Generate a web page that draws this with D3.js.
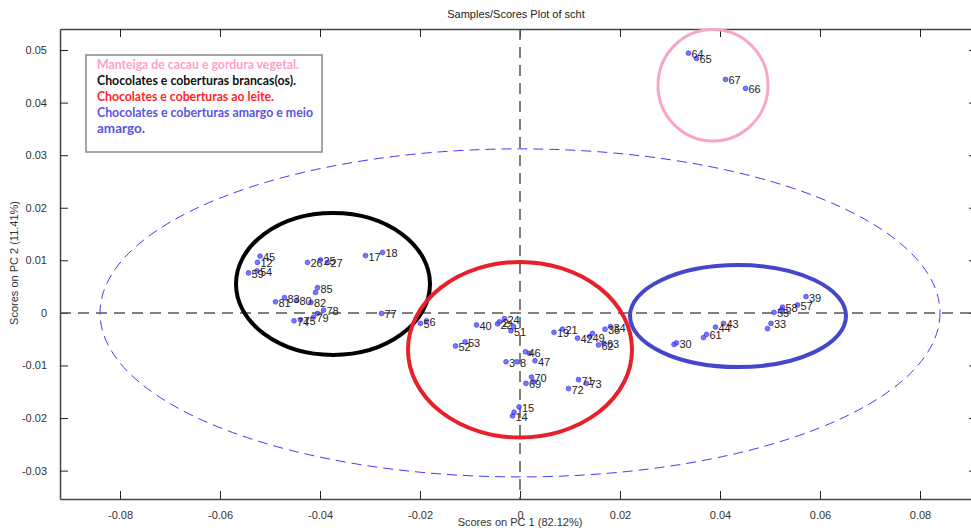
<!DOCTYPE html>
<html><head><meta charset="utf-8">
<script src="https://cdn.jsdelivr.net/npm/d3@7/dist/d3.min.js"></script>
<style>
html,body{margin:0;padding:0;background:#fff;}
svg{display:block;font-family:"Liberation Sans",Arial,sans-serif;}
</style></head>
<body><svg id="chart" width="971" height="531"></svg>
<script>
// ---- data ----  (replicate measurements without their own visible label use "")
const sampleLabels = ["45","12","59","54","26","25","27","17","18","85","","82","83","81","80","78","","79","75","74","77","6","5",
  "40","24","22","2","51","","52","53","46","","47","3","8","69","70","","15","14","","19","21","42","49","","35","34","62","63","71","72","73",
  "39","57","58","","55","33","","43","44","61","","30","",
  "64","65","67","66"];
const pc1Scores = [-0.0520,-0.0525,-0.0543,-0.0526,-0.0425,-0.0399,-0.0385,-0.0309,-0.0275,-0.0405,-0.0409,-0.0418,-0.0471,-0.0489,-0.0447,-0.0393,-0.0405,-0.0413,-0.0439,-0.0452,-0.0277,-0.0187,-0.0199,
  -0.0087,-0.0031,-0.0045,-0.0041,-0.0018,-0.0013,-0.0129,-0.0110,0.0011,0.0019,0.0030,-0.0028,-0.0006,0.0012,0.0023,0.0027,-0.0002,-0.0015,-0.0012,0.0068,0.0085,0.0115,0.0139,0.0145,0.0170,0.0181,0.0157,0.0168,0.0117,0.0097,0.0133,
  0.0572,0.0555,0.0525,0.0523,0.0508,0.0502,0.0495,0.0407,0.0391,0.0373,0.0367,0.0313,0.0308,
  0.0337,0.0353,0.0411,0.0451];
const pc2Scores = [0.0108,0.0096,0.0076,0.0080,0.0096,0.0101,0.0096,0.0109,0.0115,0.0048,0.0039,0.0020,0.0029,0.0021,0.0024,0.0005,-0.0001,-0.0008,-0.0013,-0.0015,-0.0001,-0.0015,-0.0020,
  -0.0023,-0.0011,-0.0021,-0.0017,-0.0034,-0.0026,-0.0063,-0.0055,-0.0074,-0.0077,-0.0091,-0.0093,-0.0093,-0.0134,-0.0122,-0.0131,-0.0179,-0.0196,-0.0189,-0.0037,-0.0031,-0.0048,-0.0045,-0.0039,-0.0031,-0.0026,-0.0061,-0.0058,-0.0127,-0.0144,-0.0134,
  0.0031,0.0015,0.0011,0.0006,0.0001,-0.0020,-0.0030,-0.0020,-0.0027,-0.0041,-0.0047,-0.0057,-0.0060,
  0.0494,0.0484,0.0444,0.0427];
const xTicks = [-0.08,-0.06,-0.04,-0.02,0,0.02,0.04,0.06,0.08];
const yTicks = [-0.03,-0.02,-0.01,0,0.01,0.02,0.03,0.04,0.05];
// 95% confidence ellipse (center x, center y, radius x, radius y)
const confEllipse = [0, 0, 0.0840, 0.0312];
// hand-drawn group ellipses: [cx, cy, rx, ry]
const groupNames = ["Manteiga de cacau e gordura vegetal.","Chocolates e coberturas brancas(os).","Chocolates e coberturas ao leite.","Chocolates e coberturas amargo e meio","amargo."];
const groupCx = [0.0386,-0.0374,0.0000,0.0436];
const groupCy = [0.0433,0.0055,-0.0070,-0.0006];
const groupRx = [0.0110,0.0194,0.0224,0.0216];
const groupRy = [0.0106,0.0135,0.0167,0.0097];
const groupColors = ["#f7a6c6","#000000","#e8202a","#4646cc"];
const legendColors = ["#ff9fc6","#111111","#ff1f2a","#5a55e0","#5a55e0"];

const svg = d3.select("#chart");
const L=60, R=975, T=29, B=499;
const x = d3.scaleLinear().domain([-0.092,0.091]).range([L,R]);
const y = d3.scaleLinear().domain([-0.0354,0.0540]).range([B,T]);
const fmt = d => d===0 ? "0" : String(+d.toFixed(2));

// title & axis labels
svg.append("text").attr("x",516).attr("y",18).attr("text-anchor","middle").attr("font-size",11).attr("fill","#222").text("Samples/Scores Plot of scht");
svg.append("text").attr("x",x(0)).attr("y",526).attr("text-anchor","middle").attr("font-size",11).attr("fill","#333").text("Scores on PC 1 (82.12%)");
svg.append("text").attr("transform","translate(18,"+y(0.0095)+") rotate(-90)").attr("text-anchor","middle").attr("font-size",11).attr("fill","#333").text("Scores on PC 2 (11.41%)");

// axes
function styleAxis(g){ g.select(".domain").attr("stroke","#444").attr("stroke-width",1.5);
  g.selectAll(".tick line").attr("stroke","#222");
  g.selectAll(".tick text").attr("fill","#333").attr("font-size",11).attr("font-family","Liberation Sans, Arial, sans-serif"); }
svg.append("g").attr("transform",`translate(0,${B})`).call(d3.axisBottom(x).tickValues(xTicks).tickFormat(fmt).tickSizeInner(-8).tickSizeOuter(0).tickPadding(12)).call(styleAxis);
svg.append("g").attr("transform",`translate(0,${T})`).call(d3.axisTop(x).tickValues(xTicks).tickFormat("").tickSizeInner(-8).tickSizeOuter(0)).call(styleAxis);
svg.append("g").attr("transform",`translate(${L},0)`).call(d3.axisLeft(y).tickValues(yTicks).tickFormat(fmt).tickSizeInner(-8).tickSizeOuter(0).tickPadding(13)).call(styleAxis);
svg.append("g").attr("transform",`translate(${R},0)`).call(d3.axisRight(y).tickValues(yTicks).tickFormat("").tickSizeInner(-6).tickSizeOuter(0)).call(styleAxis);

// zero lines
svg.append("line").attr("x1",L).attr("x2",R).attr("y1",y(0)).attr("y2",y(0)).attr("stroke","#555").attr("stroke-width",1.5).attr("stroke-dasharray","11,7");
svg.append("line").attr("x1",x(0)).attr("x2",x(0)).attr("y1",T).attr("y2",B).attr("stroke","#555").attr("stroke-width",1.5).attr("stroke-dasharray","11,7");

// confidence ellipse
svg.append("ellipse").attr("cx",x(confEllipse[0])).attr("cy",y(confEllipse[1]))
  .attr("rx",x(confEllipse[2])-x(0)).attr("ry",y(0)-y(confEllipse[3]))
  .attr("fill","none").attr("stroke","#3b3bff").attr("stroke-width",1).attr("stroke-dasharray","10,6");

// group ellipses
groupCx.forEach((cx,i)=>{
  svg.append("ellipse").attr("cx",x(cx)).attr("cy",y(groupCy[i]))
    .attr("rx",x(groupRx[i])-x(0)).attr("ry",y(0)-y(groupRy[i]))
    .attr("fill","none").attr("stroke",groupColors[i]).attr("stroke-width",i===0?3:4);
});

// points
const pts = sampleLabels.map((s,i)=>({s, px:pc1Scores[i], py:pc2Scores[i]}));
const gp = svg.append("g");
gp.selectAll("circle").data(pts).join("circle")
  .attr("cx",d=>x(d.px)).attr("cy",d=>y(d.py)).attr("r",2.4)
  .attr("fill","#4a4aff").attr("fill-opacity",0.75).attr("stroke","#2a2aff").attr("stroke-width",0.6);
gp.selectAll("text").data(pts.filter(d=>d.s!=="")).join("text")
  .attr("x",d=>x(d.px)+3).attr("y",d=>y(d.py)+5).attr("font-size",11).attr("fill","#222").text(d=>d.s);

// legend box
svg.append("rect").attr("x",86).attr("y",55).attr("width",236).attr("height",97).attr("fill","#fff").attr("stroke","#888").attr("stroke-width",1.5);
const lineW = [202,199,177,216,48];
groupNames.forEach((t,i)=>{
  svg.append("text").attr("x",97).attr("y",69+i*16).attr("font-family","Lato, 'Open Sans', sans-serif").attr("font-weight","bold").attr("font-size",12.5)
    .attr("fill",legendColors[i]).attr("textLength",lineW[i]).attr("lengthAdjust","spacingAndGlyphs").text(t);
});
</script></body></html>
